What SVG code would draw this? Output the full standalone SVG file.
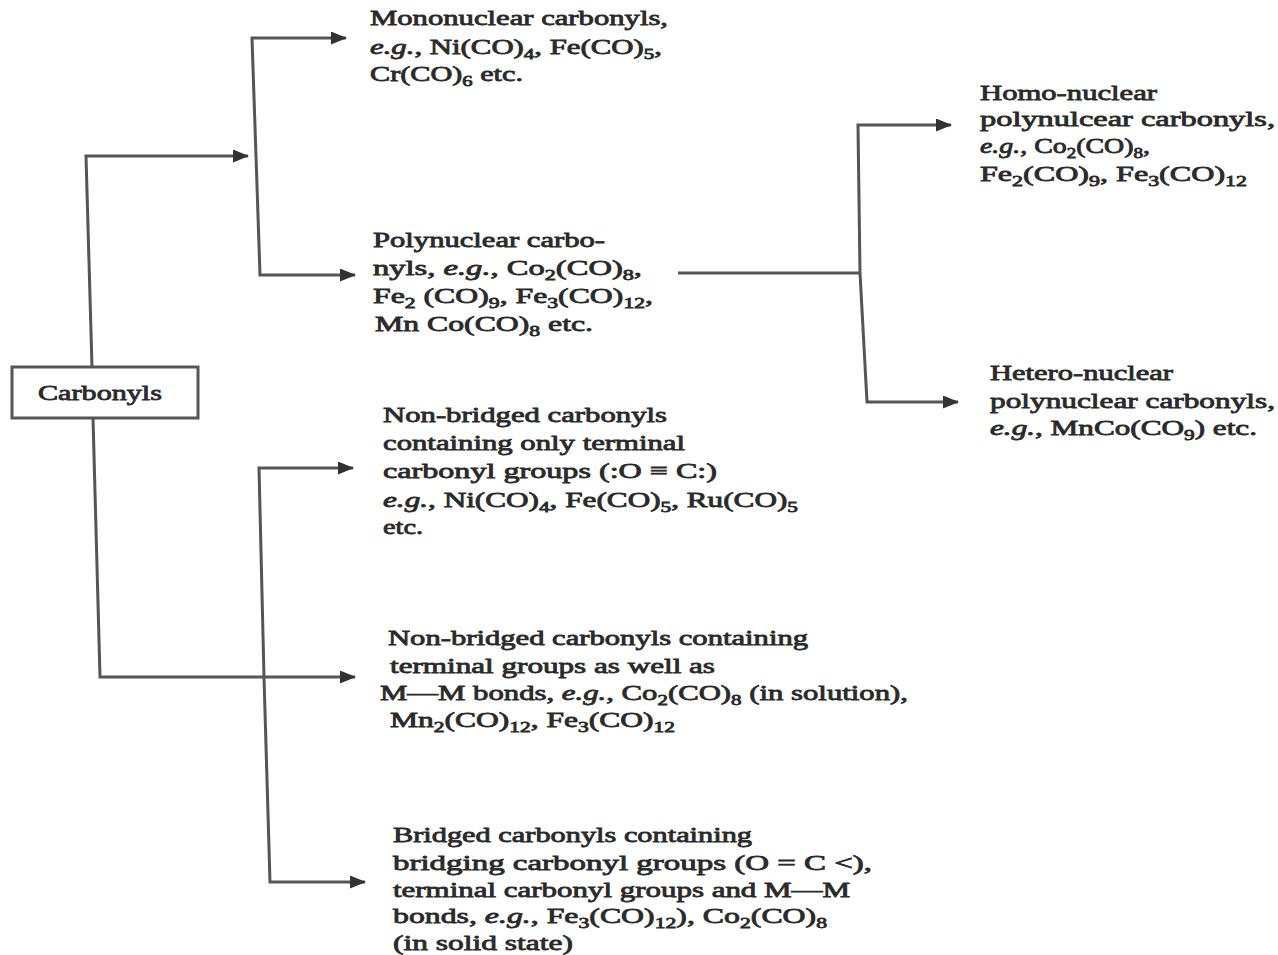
<svg xmlns="http://www.w3.org/2000/svg" width="1278" height="955" viewBox="0 0 1278 955">
<defs>
<marker id="ah" markerUnits="userSpaceOnUse" markerWidth="16" markerHeight="13" refX="15" refY="6.5" orient="auto">
<path d="M0,0 L16,6.5 L0,13 z" fill="#333"/>
</marker>
<style>
.t{font-family:"Liberation Serif","Times New Roman",serif;font-size:22px;fill:#2a2a2a;stroke:#2a2a2a;stroke-width:0.8}
.s{font-size:15px}
.i{font-style:italic}
.c{fill:none;stroke:#555;stroke-width:3;stroke-linejoin:miter}
.box{fill:#fff;stroke:#555;stroke-width:3}
</style>
</defs>
<rect width="1278" height="955" fill="#fff"/>

<g id="connectors">
<path class="c" d="M92,367 L86,156 L248,156" marker-end="url(#ah)"/>
<path class="c" d="M93,418 L100,677 L355,677" marker-end="url(#ah)"/>
<path class="c" d="M256,156 L252,38 L346,38" marker-end="url(#ah)"/>
<path class="c" d="M256,156 L260,275 L355,275" marker-end="url(#ah)"/>
<path class="c" d="M264,677 L259,468 L353,468" marker-end="url(#ah)"/>
<path class="c" d="M264,677 L270,882 L365,882" marker-end="url(#ah)"/>
<path class="c" d="M678,273 L860,273"/>
<path class="c" d="M860,273 L858,125 L951,125" marker-end="url(#ah)"/>
<path class="c" d="M860,273 L867,402 L958,402" marker-end="url(#ah)"/>
</g>

<g id="carbonyls">
<rect class="box" x="12" y="367" width="186" height="51"/>
<text class="t" x="38" y="400" textLength="124" lengthAdjust="spacingAndGlyphs">Carbonyls</text>
</g>

<g id="mononuclear">
<text class="t" x="370" y="25" textLength="298" lengthAdjust="spacingAndGlyphs">Mononuclear carbonyls,</text>
<text class="t" x="370" y="54" textLength="292" lengthAdjust="spacingAndGlyphs"><tspan class="i">e.g.</tspan>, Ni(CO)<tspan class="s" dy="5">4</tspan><tspan dy="-5">, Fe(CO)</tspan><tspan class="s" dy="5">5</tspan><tspan dy="-5">,</tspan></text>
<text class="t" x="370" y="81" textLength="153" lengthAdjust="spacingAndGlyphs">Cr(CO)<tspan class="s" dy="5">6</tspan><tspan dy="-5"> etc.</tspan></text>
</g>

<g id="polynuclear">
<text class="t" x="373" y="247" textLength="232" lengthAdjust="spacingAndGlyphs">Polynuclear carbo-</text>
<text class="t" x="373" y="275" textLength="269" lengthAdjust="spacingAndGlyphs">nyls, <tspan class="i">e.g.</tspan>, Co<tspan class="s" dy="5">2</tspan><tspan dy="-5">(CO)</tspan><tspan class="s" dy="5">8</tspan><tspan dy="-5">,</tspan></text>
<text class="t" x="373" y="303" textLength="280" lengthAdjust="spacingAndGlyphs">Fe<tspan class="s" dy="5">2</tspan><tspan dy="-5"> (CO)</tspan><tspan class="s" dy="5">9</tspan><tspan dy="-5">, Fe</tspan><tspan class="s" dy="5">3</tspan><tspan dy="-5">(CO)</tspan><tspan class="s" dy="5">12</tspan><tspan dy="-5">,</tspan></text>
<text class="t" x="375" y="331" textLength="218" lengthAdjust="spacingAndGlyphs">Mn Co(CO)<tspan class="s" dy="5">8</tspan><tspan dy="-5"> etc.</tspan></text>
</g>

<g id="homonuclear">
<text class="t" x="980" y="100" textLength="177" lengthAdjust="spacingAndGlyphs">Homo-nuclear</text>
<text class="t" x="980" y="126" textLength="295" lengthAdjust="spacingAndGlyphs">polynulcear carbonyls,</text>
<text class="t" x="980" y="153" textLength="170" lengthAdjust="spacingAndGlyphs"><tspan class="i">e.g.</tspan>, Co<tspan class="s" dy="5">2</tspan><tspan dy="-5">(CO)</tspan><tspan class="s" dy="5">8</tspan><tspan dy="-5">,</tspan></text>
<text class="t" x="980" y="181" textLength="267" lengthAdjust="spacingAndGlyphs">Fe<tspan class="s" dy="5">2</tspan><tspan dy="-5">(CO)</tspan><tspan class="s" dy="5">9</tspan><tspan dy="-5">, Fe</tspan><tspan class="s" dy="5">3</tspan><tspan dy="-5">(CO)</tspan><tspan class="s" dy="5">12</tspan></text>
</g>

<g id="heteronuclear">
<text class="t" x="990" y="380" textLength="183" lengthAdjust="spacingAndGlyphs">Hetero-nuclear</text>
<text class="t" x="990" y="408" textLength="285" lengthAdjust="spacingAndGlyphs">polynuclear carbonyls,</text>
<text class="t" x="990" y="435" textLength="267" lengthAdjust="spacingAndGlyphs"><tspan class="i">e.g.</tspan>, MnCo(CO<tspan class="s" dy="5">9</tspan><tspan dy="-5">) etc.</tspan></text>
</g>

<g id="nonbridged-terminal">
<text class="t" x="383" y="422" textLength="284" lengthAdjust="spacingAndGlyphs">Non-bridged carbonyls</text>
<text class="t" x="383" y="450" textLength="302" lengthAdjust="spacingAndGlyphs">containing only terminal</text>
<text class="t" x="383" y="478" textLength="334" lengthAdjust="spacingAndGlyphs">carbonyl groups (:O ≡ C:)</text>
<text class="t" x="383" y="507" textLength="415" lengthAdjust="spacingAndGlyphs"><tspan class="i">e.g.</tspan>, Ni(CO)<tspan class="s" dy="5">4</tspan><tspan dy="-5">, Fe(CO)</tspan><tspan class="s" dy="5">5</tspan><tspan dy="-5">, Ru(CO)</tspan><tspan class="s" dy="5">5</tspan></text>
<text class="t" x="383" y="534" textLength="40" lengthAdjust="spacingAndGlyphs">etc.</text>
</g>

<g id="nonbridged-mm">
<text class="t" x="388" y="645" textLength="420" lengthAdjust="spacingAndGlyphs">Non-bridged carbonyls containing</text>
<text class="t" x="390" y="673" textLength="325" lengthAdjust="spacingAndGlyphs">terminal groups as well as</text>
<text class="t" x="380" y="700" textLength="528" lengthAdjust="spacingAndGlyphs">M—M bonds, <tspan class="i">e.g.</tspan>, Co<tspan class="s" dy="5">2</tspan><tspan dy="-5">(CO)</tspan><tspan class="s" dy="5">8</tspan><tspan dy="-5"> (in solution),</tspan></text>
<text class="t" x="390" y="727" textLength="285" lengthAdjust="spacingAndGlyphs">Mn<tspan class="s" dy="5">2</tspan><tspan dy="-5">(CO)</tspan><tspan class="s" dy="5">12</tspan><tspan dy="-5">, Fe</tspan><tspan class="s" dy="5">3</tspan><tspan dy="-5">(CO)</tspan><tspan class="s" dy="5">12</tspan></text>
</g>

<g id="bridged">
<text class="t" x="393" y="842" textLength="359" lengthAdjust="spacingAndGlyphs">Bridged carbonyls containing</text>
<text class="t" x="393" y="870" textLength="479" lengthAdjust="spacingAndGlyphs">bridging carbonyl groups (O = C &lt;),</text>
<text class="t" x="393" y="897" textLength="457" lengthAdjust="spacingAndGlyphs">terminal carbonyl groups and M—M</text>
<text class="t" x="393" y="923" textLength="434" lengthAdjust="spacingAndGlyphs">bonds, <tspan class="i">e.g.</tspan>, Fe<tspan class="s" dy="5">3</tspan><tspan dy="-5">(CO)</tspan><tspan class="s" dy="5">12</tspan><tspan dy="-5">), Co</tspan><tspan class="s" dy="5">2</tspan><tspan dy="-5">(CO)</tspan><tspan class="s" dy="5">8</tspan></text>
<text class="t" x="393" y="950" textLength="180" lengthAdjust="spacingAndGlyphs">(in solid state)</text>
</g>
</svg>
